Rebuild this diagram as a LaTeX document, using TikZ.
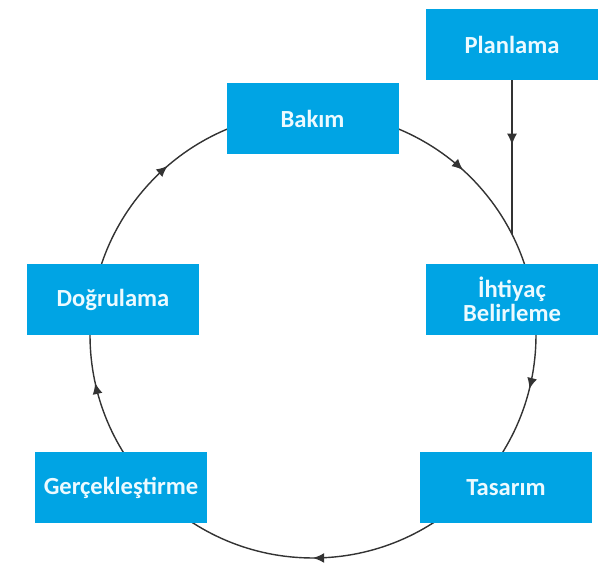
\documentclass[tikz,border=0pt]{standalone}
\usepackage{fontspec}
\setmainfont{Carlito}
\usetikzlibrary{arrows.meta, decorations.markings}
\definecolor{kutumavi}{RGB}{0,164,228}
\definecolor{yazirengi}{RGB}{236,250,255}

\begin{document}
\begin{tikzpicture}[
	kutu/.style={shape=rectangle, fill=kutumavi, text=yazirengi, minimum width=4.3cm, minimum height=1.775cm, inner sep=0pt, align=center, font=\fontsize{17.5}{17}\selectfont\bfseries},
	cizgi/.style={line width=1pt, draw=black!80},
	donguoklari/.style={decoration={markings,
		mark=at position 0.1175 with {\arrow{Latex[length=2.8mm, width=2.5mm]}},
		mark=at position 0.289 with {\arrow{Latex[length=2.8mm, width=2.5mm]}},
		mark=at position 0.5 with {\arrow{Latex[length=2.8mm, width=2.5mm]}},
		mark=at position 0.7156 with {\arrow{Latex[length=2.8mm, width=2.5mm]}},
		mark=at position 0.887 with {\arrow{Latex[length=2.8mm, width=2.5mm]}}}, postaction=decorate},
	tekok/.style={decoration={markings, mark=at position 0.42 with {\arrow{Latex[length=2.8mm, width=2.5mm]}}}, postaction=decorate}]
	\useasboundingbox (0, 0) rectangle (15.4, 14.2);
	% Cycle:
	\coordinate (merkez) at (7.825, 5.825);
	\draw[cizgi, donguoklari] (merkez) ++(90:5.575) arc[start angle=90, end angle=-270, radius=5.575];
	% Steps:
	\node[kutu] (planlama) at (12.8, 13.0875) {Planlama};
	\node[kutu] (bakim) at (7.8125, 11.2375) {Bakım};
	\node[kutu] (dogrulama) at (2.825, 6.7125) {Doğrulama};
	\node[kutu] (ihtiyac) at (12.8, 6.7125) {İhtiyaç\\Belirleme};
	\node[kutu] (gerceklestirme) at (3.025, 2.0) {Gerçekleştirme};
	\node[kutu] (tasarim) at (12.65, 2.0) {Tasarım};
	% Planlama into the cycle:
	\coordinate (kesim) at (12.8, 8.35);
	\draw[cizgi, tekok] (planlama) -- (kesim);
\end{tikzpicture}
\end{document}
